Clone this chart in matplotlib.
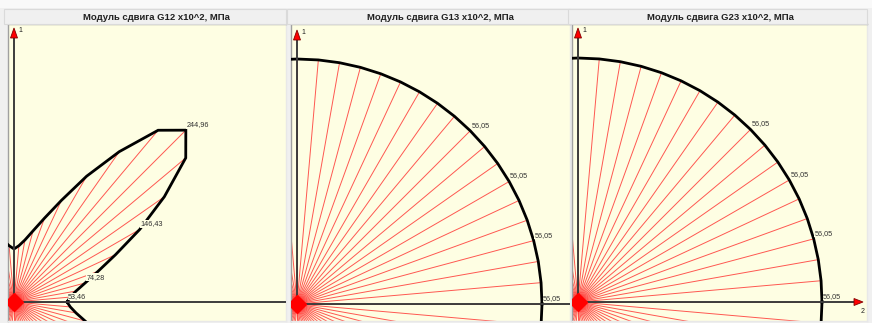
import numpy as np
import matplotlib
matplotlib.use("Agg")
import matplotlib.pyplot as plt
from matplotlib.collections import LineCollection
from matplotlib.patches import Polygon, Rectangle

# polar angles of the computed directions, degrees
angles = np.arange(0, 360, 5)

# shear modulus G12 x10^2, MPa, for each direction (0..355 deg)
g12 = [53.46, 57.0, 63.5, 74.28, 90.0, 113.0, 146.43, 185.0, 226.0,
       244.96, 226.0, 185.0, 146.43, 113.0, 90.0, 74.28, 63.5, 57.0,
       53.46, 57.0, 63.5, 74.28, 90.0, 113.0, 146.43, 185.0, 226.0,
       244.96, 226.0, 185.0, 146.43, 113.0, 90.0, 74.28, 63.5, 57.0,
       53.46, 57.0, 63.5, 74.28, 90.0, 113.0, 146.43, 185.0, 226.0,
       244.96, 226.0, 185.0, 146.43, 113.0, 90.0, 74.28, 63.5, 57.0,
       53.46, 57.0, 63.5, 74.28, 90.0, 113.0, 146.43, 185.0, 226.0,
       244.96, 226.0, 185.0, 146.43, 113.0, 90.0, 74.28, 63.5, 57.0]
# G13 and G23 are the same in every direction
g13 = [56.05] * len(angles)
g23 = [56.05] * len(angles)

titles = ["Модуль сдвига G12 x10^2, МПа",
          "Модуль сдвига G13 x10^2, МПа",
          "Модуль сдвига G23 x10^2, МПа"]
label_angles = [0, 15, 30, 45]

W, H = 872, 323
TOP, BOTTOM = 24, 321
BG = "#fefee3"

# x0, x1, origin x, origin y, radius of the largest value (all pixels), title centre
layout = [(8, 286, 14, 302, 243, 156),
          (291, 570, 297, 304, 245, 440),
          (572, 867, 578, 302, 244, 720)]


def draw_panel(ax, values, u):
    th = np.radians(angles)
    r = np.array(values)
    xs = r * np.cos(th)
    ys = r * np.sin(th)

    rays = [[(0, 0), (x, y)] for x, y in zip(xs, ys)]
    ax.add_collection(LineCollection(rays, colors="#ff2020", linewidths=0.7,
                                     alpha=0.75, zorder=2))

    ax.plot(np.append(xs, xs[0]), np.append(ys, ys[0]), color="black",
            lw=2.0, solid_joinstyle="miter", zorder=4)

    # coordinate axes with arrows
    ax.plot([0, 0], [0, 266 * u], color="#3c3c3c", lw=1.4, zorder=5)
    ax.plot([0, 277 * u], [0, 0], color="#3c3c3c", lw=1.4, zorder=5)
    ax.add_patch(Polygon([(-3.5 * u, 264 * u), (3.5 * u, 264 * u), (0, 274 * u)],
                         closed=True, fc="red", ec="#800000", lw=0.6, zorder=6))
    ax.add_patch(Polygon([(276 * u, -3.5 * u), (276 * u, 3.5 * u), (285 * u, 0)],
                         closed=True, fc="red", ec="#800000", lw=0.6, zorder=6))
    ax.text(4 * u, 268 * u, "1", fontsize=5, color="#202020",
            family="Liberation Sans", ha="left", va="bottom", zorder=7)
    ax.text(285 * u, -6 * u, "2", fontsize=5, color="#202020",
            family="Liberation Sans", ha="center", va="top", zorder=7)

    ax.plot([0], [0], marker="D", ms=9.5, color="red", mec="red", zorder=6)

    for a in label_angles:
        i = list(angles).index(a)
        ax.text(xs[i] + 1 * u, ys[i] + 2 * u, f"{values[i]:.2f}".replace(".", ","),
                fontsize=5.2, color="#303030", family="Liberation Sans",
                ha="left", va="bottom", zorder=7,
                bbox=dict(fc=BG, ec="none", pad=0.3))


fig = plt.figure(figsize=(W / 100, H / 100), dpi=100)
fig.patch.set_facecolor("#f0f0f0")
fig.patches.append(Rectangle((0, (H - 8) / H), 1, 8 / H, transform=fig.transFigure,
                             fc="#f9f9f9", ec="none"))

for (x0, x1, ox, oy, rpx, tx), values, title in zip(layout, [g12, g13, g23], titles):
    # header strip above each plot
    fig.patches.append(Rectangle(((x0 - 4) / W, (H - TOP) / H), (x1 - x0 + 4) / W,
                                 (TOP - 9) / H, transform=fig.transFigure,
                                 fc="#f0f0f0", ec="#dadada", lw=0.8))
    fig.text(tx / W, (H - 17) / H, title, ha="center", va="center",
             fontsize=6.8, fontweight="bold", family="Liberation Sans", color="#202020")

    ax = fig.add_axes([x0 / W, (H - BOTTOM) / H, (x1 - x0) / W, (BOTTOM - TOP) / H])
    ax.set_facecolor(BG)
    u = max(values) / rpx
    draw_panel(ax, values, u)
    ax.set_xlim((x0 - ox) * u, (x1 - ox) * u)
    ax.set_ylim((oy - BOTTOM) * u, (oy - TOP) * u)
    ax.set_xticks([])
    ax.set_yticks([])
    for side, sp in ax.spines.items():
        sp.set_color("#a0a0a0" if side in ("left", "top") else "#e8e8e8")
        sp.set_linewidth(1.0)

fig.savefig("out.png", dpi=100, facecolor=fig.get_facecolor())
